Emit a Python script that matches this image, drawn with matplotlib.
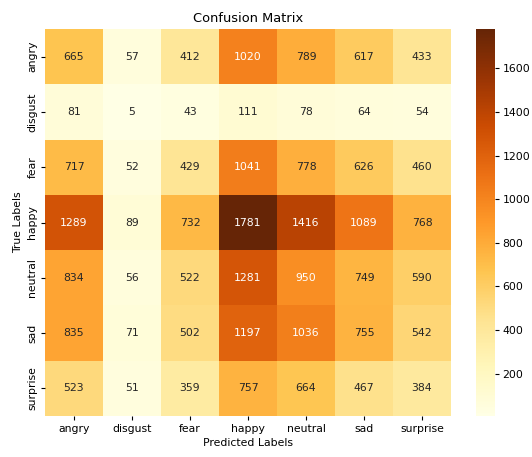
import numpy as np
import matplotlib
matplotlib.use("Agg")
import matplotlib.pyplot as plt
import seaborn as sns

labels = ['angry', 'disgust', 'fear', 'happy', 'neutral', 'sad', 'surprise']

angry = [665, 57, 412, 1020, 789, 617, 433]
disgust = [81, 5, 43, 111, 78, 64, 54]
fear = [717, 52, 429, 1041, 778, 626, 460]
happy = [1289, 89, 732, 1781, 1416, 1089, 768]
neutral = [834, 56, 522, 1281, 950, 749, 590]
sad = [835, 71, 502, 1197, 1036, 755, 542]
surprise = [523, 51, 359, 757, 664, 467, 384]

cm = np.array([angry, disgust, fear, happy, neutral, sad, surprise])

fs = 7.8

fig = plt.figure(figsize=(5.32, 4.57), dpi=100)
ax = fig.add_axes([45 / 532, 1 - 416 / 457, 406 / 532, 387 / 457])
cax = fig.add_axes([476 / 532, 1 - 416 / 457, 19 / 532, 387 / 457])

sns.heatmap(cm, annot=True, fmt='d', cmap='YlOrBr',
            xticklabels=labels, yticklabels=labels, ax=ax, cbar_ax=cax,
            annot_kws={'fontsize': fs})
ax.set_title('Confusion Matrix', fontsize=9.4, pad=4.7)
ax.set_xlabel('Predicted Labels', fontsize=fs, labelpad=3)
ax.set_ylabel('True Labels', fontsize=fs, labelpad=3)
ax.tick_params(labelsize=fs, length=2.7, pad=2.7)
cax.tick_params(labelsize=fs, length=2.7, pad=2.7)

fig.savefig('out.png', dpi=100)
